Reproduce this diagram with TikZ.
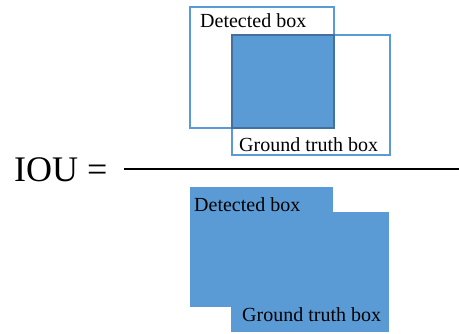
\documentclass[tikz,border=0pt]{standalone}
\usepackage{fontspec}
\setmainfont{Liberation Serif}
\usetikzlibrary{positioning}
\definecolor{Blue}{HTML}{5B9BD5}
\definecolor{DarkBlue}{HTML}{41719C}
\begin{document}
\begin{tikzpicture}[x=1pt,y=-1pt,
    lab/.style={anchor=base west,inner sep=0pt,font=\fontsize{20}{24}\selectfont}]
  \useasboundingbox (0,0) rectangle (459,334);
  % intersection
  \foreach \xa/\ya/\xb/\yb in {190/7/334/128, 232/35/390/155}{
    \draw[Blue,line width=1.5pt] (\xa,\ya) rectangle (\xb,\yb);
  }
  \filldraw[fill=Blue,draw=DarkBlue,line width=1.5pt] (232,35) rectangle (334,128);
  \node[lab] (dettop) at (200,28) {Detected box};
  \node[lab] (gttop) at (239,152) {Ground truth box};
  % union
  \fill[Blue] (190,187) rectangle (333,307);
  \fill[Blue] (231,212) rectangle (389,332);
  \node[lab] (detbot) at (194,212) {Detected box};
  \node[lab] (gtbot) at (242,322) {Ground truth box};
  % fraction
  \node[anchor=base west,inner sep=0pt,font=\fontsize{36}{40}\selectfont] (iou) at (14,182) {IOU =};
  \coordinate (barL) at (124,169);
  \coordinate (barR) at (459,169);
  \draw[line width=2.5pt] (barL) -- (barR);
\end{tikzpicture}
\end{document}
